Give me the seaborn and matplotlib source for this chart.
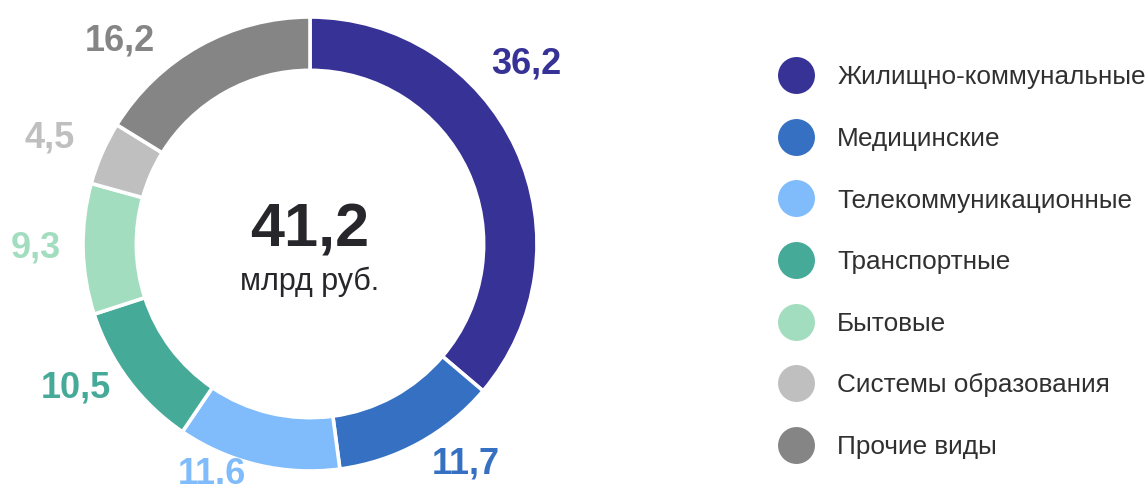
import numpy as np
import matplotlib
matplotlib.use("Agg")
import matplotlib.pyplot as plt
from matplotlib.lines import Line2D
import seaborn as sns

# Data
categories = ['Жилищно-коммунальные', 'Медицинские', 'Телекоммуникационные',
              'Транспортные', 'Бытовые', 'Системы образования', 'Прочие виды']
values = [36.2, 11.7, 11.6, 10.5, 9.3, 4.5, 16.2]
value_labels = ['36,2', '11,7', '11.6', '10,5', '9,3', '4,5', '16,2']
total_label = '41,2'
total_unit = 'млрд руб.'

colors = ['#373296', '#3570C2', '#80BBFB', '#46AA98', '#A3DDBF', '#BFBFBF', '#858585']

# label placement tweaks (angle offset in degrees from slice middle, radius)
label_shift = [14.8, 6.7, -9.8, -5.2, -0.5, 1.4, 13.9]
label_radius = [1.24, 1.19, 1.105, 1.21, 1.21, 1.24, 1.225]

sns.set_theme(style='white')
plt.rcParams['font.family'] = ['Liberation Sans', 'DejaVu Sans']
palette = sns.color_palette(colors)

fig = plt.figure(figsize=(11.48, 4.92), dpi=100)
ax = fig.add_axes([83 / 1148, 21 / 492, 454 / 1148, 454 / 492])

wedges, _ = ax.pie(values, colors=palette, startangle=90, counterclock=False,
                   radius=1.0,
                   wedgeprops=dict(width=0.235, edgecolor='white', linewidth=2.6))
ax.set_xlim(-1, 1)
ax.set_ylim(-1, 1)
ax.set_aspect('equal')
ax.axis('off')

# value labels around the ring
total = sum(values)
start = 90.0
for val, txt, col, shift, rad in zip(values, value_labels, palette, label_shift, label_radius):
    sweep = 360.0 * val / total
    mid = start - sweep / 2 + shift
    start -= sweep
    x = rad * np.cos(np.radians(mid))
    y = rad * np.sin(np.radians(mid))
    ax.text(x, y, txt, color=col, fontsize=26, fontweight='bold',
            ha='center', va='center', clip_on=False)

# centre text
ax.text(0, -0.013, total_label, fontsize=44, fontweight='bold', color='#27272b',
        ha='center', va='baseline')
ax.text(0, -0.203, total_unit, fontsize=22, color='#27272b',
        ha='center', va='baseline')

# legend
handles = [Line2D([], [], marker='o', linestyle='', markersize=26.6,
                  markerfacecolor=c, markeredgewidth=0) for c in palette]
fig.legend(handles, categories, loc='upper left', bbox_to_anchor=(0.6759, 0.867),
           frameon=False, fontsize=18.8, labelcolor='#303030',
           handlelength=1.5, handletextpad=0.85, labelspacing=1.44,
           borderpad=0, borderaxespad=0)

fig.savefig('out.png', dpi=100)
